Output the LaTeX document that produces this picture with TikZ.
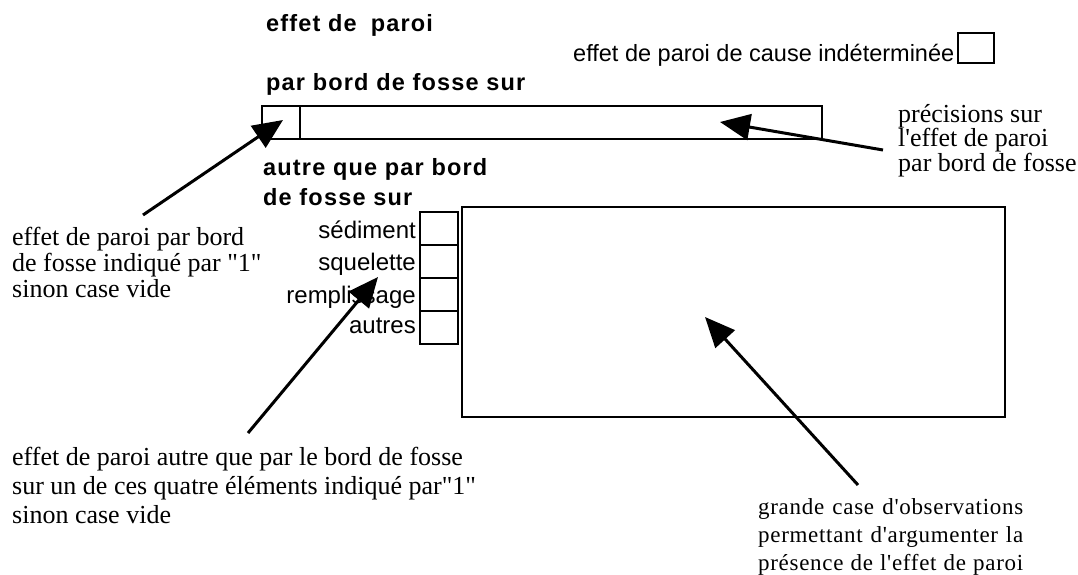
\documentclass[tikz,border=0pt]{standalone}
\usepackage{fontspec}
\newfontfamily\tms{Liberation Serif}
\newfontfamily\tmsls[LetterSpace=3]{Liberation Serif}
\newfontfamily\hvreg{Liberation Sans}
\newfontfamily\hvbold[LetterSpace=5]{Liberation Sans Bold}
\usetikzlibrary{arrows.meta}
\begin{document}
\begin{tikzpicture}[x=1pt,y=-1pt,
  box/.style={draw,line width=2.2pt,inner sep=0pt,outer sep=0pt,anchor=north west},
  arr/.style={line width=3pt,-{Triangle[length=30pt,width=26pt]}},
  bsans/.style={font=\hvbold\fontsize{23.5}{30}\selectfont,anchor=base west,inner sep=0pt},
  rsans/.style={font=\hvreg\fontsize{23.5}{28}\selectfont,anchor=base west,inner sep=0pt},
  lab/.style={font=\hvreg\fontsize{24}{28}\selectfont,anchor=base east,inner sep=0pt},
  note/.style={font=\tms\fontsize{26}{26}\selectfont,anchor=base west,inner sep=0pt},
]
\useasboundingbox (0,0) rectangle (1078,575);

% headings
\node[bsans] (t1) at (266,32) {effet de\hspace{14pt}paroi};
\node[rsans] (t2) at (573,62) {effet de paroi de cause indéterminée};
\node[box,minimum width=36pt,minimum height=30pt] (b0) at (958,33) {};
\node[bsans] (t3) at (266,91) {par bord de fosse sur};

% long box
\node[box,minimum width=38pt,minimum height=33pt] (lb1) at (262,106) {};
\node[box,minimum width=522pt,minimum height=33pt] (lb2) at (300,106) {};

% other than by pit edge
\node[bsans] (t4) at (263,175) {\vtop{\hbox{autre que par bord}\hbox{de fosse sur}}};

% four small boxes
\node[box,minimum width=38pt,minimum height=33pt] (sb1) at (420,212) {};
\node[box,minimum width=38pt,minimum height=33pt] (sb2) at (420,245) {};
\node[box,minimum width=38pt,minimum height=33pt] (sb3) at (420,278) {};
\node[box,minimum width=38pt,minimum height=33pt] (sb4) at (420,311) {};
\node[lab] (l1) at (416,238) {sédiment};
\node[lab] (l2) at (416,270) {squelette};
\node[lab] (l3) at (416,303) {remplissage};
\node[lab] (l4) at (416,333) {autres};

% big box
\node[box,minimum width=543pt,minimum height=210pt] (big) at (462,207) {};

% notes
\node[note] (n1) at (12,245) {\vtop{\hbox{effet de paroi par bord}\hbox{de fosse indiqué par "1"}\hbox{sinon case vide}}};
\node[note,font=\tms\fontsize{26}{29}\selectfont] (n2) at (12,465) {\vtop{\hbox{effet de paroi autre que par le bord de fosse}\hbox{sur un de ces quatre éléments indiqué par"1"}\hbox{sinon case vide}}};
\node[note,font=\tms\fontsize{26}{23}\selectfont] (n3) at (898,122) {\vtop{\hbox{précisions sur}\hbox{l'effet de paroi}\hbox{par bord de fosse}}};
\node[note,font=\tmsls\fontsize{23}{28}\selectfont] (n4) at (758,514) {\vtop{\hbox{\makebox[265pt][s]{grande case d'observations}}\hbox{\makebox[265pt][s]{permettant d'argumenter la}}\hbox{\makebox[265pt][s]{présence de l'effet de paroi}}}};

% arrows
\coordinate (a1s) at (143,215);
\coordinate (a1t) at (283,120);
\coordinate (a2s) at (883,150);
\coordinate (a2t) at (720,122);
\coordinate (a3s) at (248,433);
\coordinate (a3t) at (378,277);
\coordinate (a4s) at (858,485);
\coordinate (a4t) at (705,317);
\draw[arr] (a1s) -- (a1t);
\draw[arr] (a2s) -- (a2t);
\draw[arr] (a3s) -- (a3t);
\draw[arr] (a4s) -- (a4t);
\end{tikzpicture}
\end{document}
